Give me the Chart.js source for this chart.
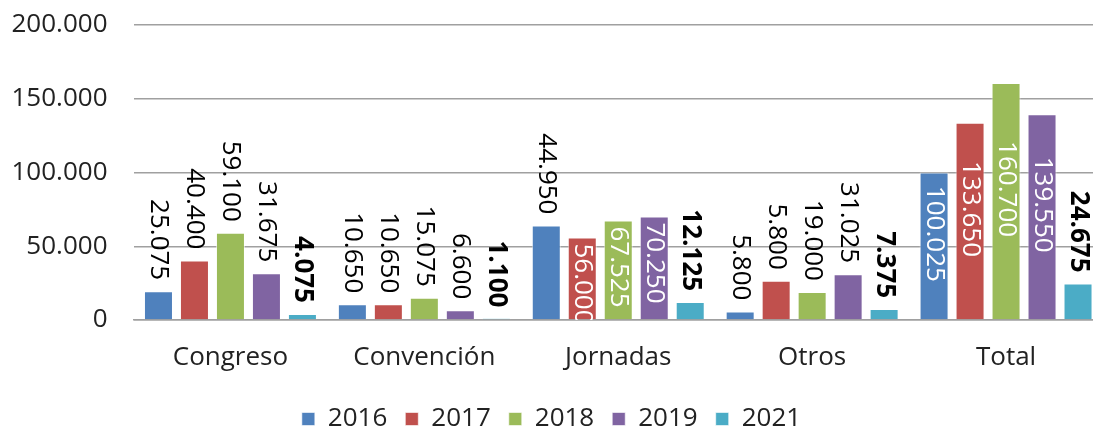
<!DOCTYPE html>
<html>
<head>
<meta charset="utf-8">
<script src="https://cdn.jsdelivr.net/npm/chart.js@4.4.1/dist/chart.umd.min.js"></script>
<style>
  html, body { margin: 0; padding: 0; background: #fff; overflow: hidden; }
  #wrap { width: 1093px; height: 428px; overflow: hidden; }
  #box { width: 1103px; height: 428px; }
</style>
</head>
<body>
<div id="wrap"><div id="box"><canvas id="eventChart"></canvas></div></div>
<script>
// categorias y series
const categories = ['Congreso', 'Convención', 'Jornadas', 'Otros', 'Total'];
const years = ['2016', '2017', '2018', '2019', '2021'];

// alturas de las barras
const v2016 = [19500, 10650, 64075, 5800, 100025];
const v2017 = [40400, 10650, 56000, 26600, 133650];
const v2018 = [59100, 15075, 67525, 19000, 160700];
const v2019 = [31675, 6600, 70250, 31025, 139550];
const v2021 = [4075, 1100, 12125, 7375, 24675];

// etiquetas tal como aparecen
const lbl2016 = ['25.075', '10.650', '44.950', '5.800', '100.025'];
const lbl2017 = ['40.400', '10.650', '56.000', '5.800', '133.650'];
const lbl2018 = ['59.100', '15.075', '67.525', '19.000', '160.700'];
const lbl2019 = ['31.675', '6.600', '70.250', '31.025', '139.550'];
const lbl2021 = ['4.075', '1.100', '12.125', '7.375', '24.675'];

const yTicks = [0, 50000, 100000, 150000, 200000];

// donde va cada etiqueta: fuera, dentro arriba, centrada
const place = [
  ['out', 'out', 'out', 'out', 'mid'],
  ['out', 'out', 'in', 'out', 'mid'],
  ['out', 'out', 'in', 'out', 'mid'],
  ['out', 'out', 'in', 'out', 'mid'],
  ['out', 'out', 'out', 'out', 'out']
];

const colors = ['#4F81BD', '#C0504D', '#9BBB59', '#8064A2', '#4BACC6'];
const values = [v2016, v2017, v2018, v2019, v2021];
const labels = [lbl2016, lbl2017, lbl2018, lbl2019, lbl2021];
const FONT = "'Open Sans', 'Noto Sans', sans-serif";

function fmt(n) {
  return String(n).replace(/\B(?=(\d{3})+(?!\d))/g, '.');
}

// plugin para las etiquetas verticales
const vLabels = {
  id: 'vLabels',
  beforeLayout(chart) {
    // la leyenda ocupa menos alto
    const lg = chart.legend;
    if (lg && !lg._patched) {
      const fit = lg.fit;
      lg.fit = function () { fit.call(this); this.height = 40; };
      lg._patched = true;
    }
  },
  afterDatasetsDraw(chart) {
    const ctx = chart.ctx;
    const area = chart.chartArea;
    ctx.save();
    ctx.beginPath();
    ctx.rect(0, 0, chart.width, area.bottom);
    ctx.clip();
    chart.data.datasets.forEach((ds, i) => {
      const meta = chart.getDatasetMeta(i);
      meta.data.forEach((bar, j) => {
        const txt = labels[i][j];
        const mode = place[i][j];
        ctx.save();
        ctx.translate(bar.x, 0);
        ctx.rotate(Math.PI / 2);
        ctx.textBaseline = 'middle';
        const bold = i === 4;
        ctx.font = (bold ? 'bold ' : '') + '26px ' + FONT;
        if (mode === 'out') {
          ctx.fillStyle = '#000';
          ctx.textAlign = 'right';
          ctx.fillText(txt, bar.y - 11, 0);
        } else if (mode === 'in') {
          ctx.fillStyle = '#fff';
          ctx.textAlign = 'left';
          ctx.fillText(txt, bar.y + 6, 0);
        } else {
          ctx.fillStyle = '#fff';
          ctx.textAlign = 'center';
          ctx.fillText(txt, (bar.y + bar.base) / 2 - 12, 0);
        }
        ctx.restore();
      });
    });
    ctx.restore();
  }
};

const ctx = document.getElementById('eventChart').getContext('2d');
const eventChart = new Chart(ctx, {
  type: 'bar',
  data: {
    labels: categories,
    datasets: years.map((y, i) => ({
      label: y,
      data: values[i],
      backgroundColor: colors[i],
      borderColor: 'rgba(255,255,255,0.6)',
      borderWidth: 1,
      categoryPercentage: 0.928,
      barPercentage: 0.806
    }))
  },
  options: {
    responsive: true,
    maintainAspectRatio: false,
    animation: false,
    layout: { padding: { top: 25, right: 0, bottom: 0, left: 0 } },
    plugins: {
      tooltip: { enabled: false },
      legend: {
        position: 'bottom',
        labels: {
          font: { family: FONT, size: 26 },
          color: '#222',
          boxWidth: 13,
          boxHeight: 13,
          padding: 18
        }
      }
    },
    scales: {
      x: {
        afterFit(scale) { scale.height = 68; },
        grid: { display: false, drawTicks: false },
        border: { color: '#a0a0a0', width: 1.5 },
        ticks: { font: { family: FONT, size: 26 }, color: '#222', padding: 22 }
      },
      y: {
        min: 0,
        max: 200000,
        afterFit(scale) { scale.width = 133.5; },
        afterBuildTicks(scale) { scale.ticks = yTicks.map(v => ({ value: v })); },
        grid: { color: '#a0a0a0', lineWidth: 1.5, drawTicks: true, tickLength: 26, tickColor: 'rgba(0,0,0,0)' },
        border: { display: false },
        ticks: {
          font: { family: FONT, size: 26 },
          color: '#222',
          padding: 0,
          callback: (v) => fmt(v)
        }
      }
    }
  },
  plugins: [vLabels]
});
</script>
</body>
</html>
